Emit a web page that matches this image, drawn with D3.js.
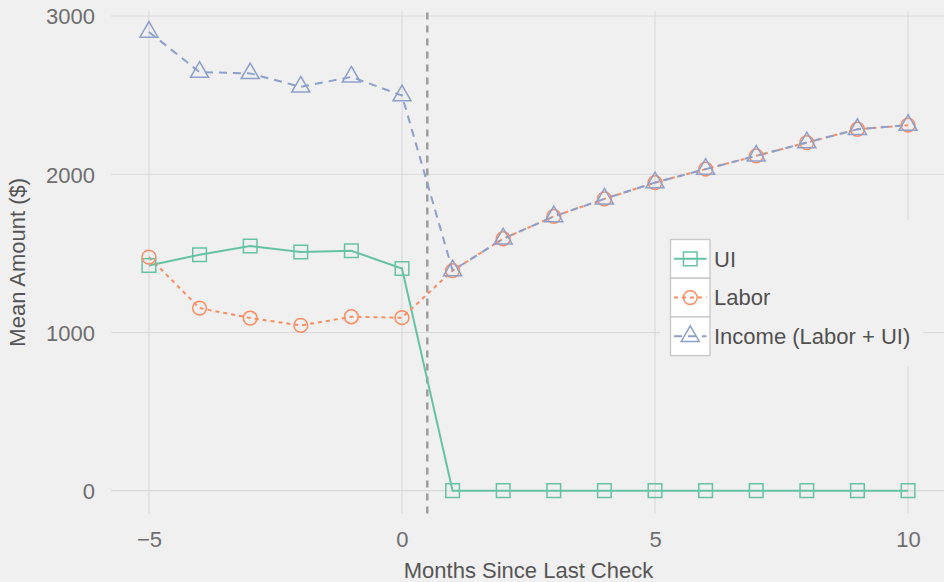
<!DOCTYPE html>
<html>
<head>
<meta charset="utf-8">
<script src="https://cdn.jsdelivr.net/npm/d3@7"></script>
<style>
  html, body { margin: 0; padding: 0; background: #f0f0f0; }
  svg { display: block; font-family: "Liberation Sans", Arial, Helvetica, sans-serif; }
</style>
</head>
<body>
<svg id="chart" width="944" height="582"></svg>
<script>
// Months relative to the last unemployment-insurance check
const months = [-5, -4, -3, -2, -1, 0, 1, 2, 3, 4, 5, 6, 7, 8, 9, 10];
// Mean monthly amounts in dollars
const uiValues     = [1423, 1491, 1546, 1508, 1516, 1404, 0, 0, 0, 0, 0, 0, 0, 0, 0, 0];
const laborValues  = [1476, 1154, 1091, 1044, 1099, 1093, 1391, 1592, 1733, 1844, 1947, 2032, 2116, 2200, 2284, 2310];
const incomeValues = [2899, 2645, 2637, 2552, 2615, 2497, 1391, 1592, 1733, 1844, 1947, 2032, 2116, 2200, 2284, 2310];
const seriesNames  = ["UI", "Labor", "Income (Labor + UI)"];
const xTicks = [-5, 0, 5, 10];
const yTicks = [0, 1000, 2000, 3000];
const cutoffMonth = 0.5;
const xTitle = "Months Since Last Check";
const yTitle = "Mean Amount ($)";

const colors = ["#66c2a5", "#fc8d62", "#8da0cb"];
const dashes = [null, "4,4", "8,6"];
const shapes = ["square", "circle", "triangle"];

const svg = d3.select("#chart");

const x = d3.scaleLinear().domain([-5.75, 10.75]).range([111, 946]);
const y = d3.scaleLinear().domain([-145, 3032]).range([513.6, 10.9]);

// panel gridlines
const grid = svg.append("g").attr("stroke", "#d9d9d9").attr("stroke-width", 1.1);
grid.selectAll("line.h").data(yTicks).join("line")
  .attr("x1", x.range()[0]).attr("x2", x.range()[1])
  .attr("y1", d => y(d)).attr("y2", d => y(d));
grid.selectAll("line.v").data(xTicks).join("line")
  .attr("x1", d => x(d)).attr("x2", d => x(d))
  .attr("y1", y.range()[0]).attr("y2", y.range()[1]);

// axes (text only)
const fmt = d => d < 0 ? "\u2212" + Math.abs(d) : String(d);
const xAxis = d3.axisBottom(x).tickValues(xTicks).tickFormat(fmt).tickSize(0).tickPadding(0);
const gx = svg.append("g").attr("transform", "translate(0,530)").call(xAxis);
const yAxis = d3.axisLeft(y).tickValues(yTicks).tickFormat(fmt).tickSize(0).tickPadding(0);
const gy = svg.append("g").attr("transform", "translate(95,0)").call(yAxis);
[gx, gy].forEach(g => {
  g.select(".domain").remove();
  g.selectAll("text").attr("font-size", 22).attr("fill", "#6e6e6e")
    .attr("font-family", "Liberation Sans, Arial, sans-serif");
});
gx.selectAll("text").attr("dy", "0.75em");
gy.selectAll("text").attr("dy", "0.36em");

svg.append("text")
  .attr("x", (x.range()[0] + x.range()[1]) / 2).attr("y", 577.5)
  .attr("text-anchor", "middle").attr("font-size", 22).attr("fill", "#555")
  .text(xTitle);
svg.append("text")
  .attr("transform", `translate(25,${(y.range()[0] + y.range()[1]) / 2}) rotate(-90)`)
  .attr("text-anchor", "middle").attr("font-size", 22).attr("fill", "#555")
  .text(yTitle);

// cutoff marker between last check and first month without UI
svg.append("line")
  .attr("x1", x(cutoffMonth)).attr("x2", x(cutoffMonth))
  .attr("y1", y.range()[0]).attr("y2", y.range()[1])
  .attr("stroke", "#9a9a9a").attr("stroke-width", 2.4).attr("stroke-dasharray", "7,6");

const seriesValues = [uiValues, laborValues, incomeValues];
const series = seriesNames.map((name, i) => ({
  name, color: colors[i], dash: dashes[i], shape: shapes[i],
  points: months.map((m, j) => ({ m, v: seriesValues[i][j] }))
}));

const line = d3.line().x(d => x(d.m)).y(d => y(d.v));

// lines
svg.append("g").selectAll("path").data(series).join("path")
  .attr("d", s => line(s.points))
  .attr("fill", "none").attr("stroke", s => s.color).attr("stroke-width", 2)
  .attr("stroke-dasharray", s => s.dash);

function markerPath(shape) {
  if (shape === "square") { const h = 6.8; return `M${-h},${-h}H${h}V${h}H${-h}Z`; }
  if (shape === "circle") { const r = 6.9; return `M${r},0A${r},${r} 0 1 1 ${-r},0A${r},${r} 0 1 1 ${r},0Z`; }
  const k = 5.2; // triangle centred on its centroid
  return `M0,${-2 * k}L${Math.sqrt(3) * k},${k}L${-Math.sqrt(3) * k},${k}Z`;
}

// points
const pts = svg.append("g");
series.forEach(s => {
  pts.append("g").selectAll("path").data(s.points).join("path")
    .attr("transform", d => `translate(${x(d.m)},${y(d.v)})`)
    .attr("d", markerPath(s.shape))
    .attr("fill", "none").attr("stroke", s.color).attr("stroke-width", 1.5);
});

// legend
const legend = svg.append("g");
legend.append("rect").attr("x", 660).attr("y", 220).attr("width", 263).attr("height", 146)
  .attr("fill", "#f0f0f0");
const keyH = 38.7, keyW = 39.5, keyX = 670.5, keyY = 239.5;
series.forEach((s, i) => {
  const g = legend.append("g").attr("transform", `translate(${keyX},${keyY + i * keyH})`);
  g.append("rect").attr("width", keyW).attr("height", keyH)
    .attr("fill", "#ffffff").attr("stroke", "#c9c9c9").attr("stroke-width", 1.4);
  g.append("line").attr("x1", 3.5).attr("x2", keyW - 3.5).attr("y1", keyH / 2).attr("y2", keyH / 2)
    .attr("stroke", s.color).attr("stroke-width", 2).attr("stroke-dasharray", s.dash);
  g.append("path").attr("transform", `translate(${keyW / 2},${keyH / 2})`)
    .attr("d", markerPath(s.shape)).attr("fill", "none").attr("stroke", s.color).attr("stroke-width", 1.5);
  g.append("text").attr("x", keyW + 4).attr("y", keyH / 2).attr("dy", "0.36em")
    .attr("font-size", 22).attr("fill", "#505050").text(s.name);
});
</script>
</body>
</html>
